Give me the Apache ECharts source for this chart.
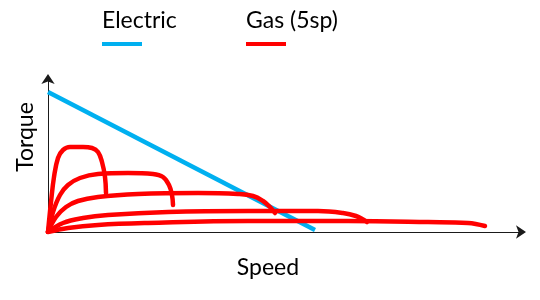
<!DOCTYPE html>
<html><head><meta charset="utf-8">
<script src="https://cdn.jsdelivr.net/npm/echarts@6/dist/echarts.min.js"></script>
<style>html,body{margin:0;padding:0;background:#fff}#c{width:540px;height:300px}</style>
</head><body><div id="c"></div>
<script>
const seriesNames = ['Electric', 'Gas (5sp)'];
const xTitle = 'Speed';
const yTitle = 'Torque';
const electric = [[0,140],[267,2]];
const gear1 = [[0,0],[3,30],[6,55],[10,74],[15,82],[22,85],[35,85],[44,84],[50,80],[54,70],[57,55],[58,39]];
const gear2 = [[0,0],[5,20],[12,37],[20,47],[32,54],[50,58],[80,59],[105,58],[115,55],[121,47],[124,37],[125,27]];
const gear3 = [[0,0],[8,15],[18,25],[30,31],[50,35],[90,38],[150,39],[190,38],[205,36],[215,31],[222,25],[227,19]];
const gear4 = [[0,0],[15,9],[35,14],[60,17],[120,20],[200,21],[270,21],[295,19],[308,16],[316,12],[319,10]];
const gear5 = [[0,0],[20,4],[50,7],[100,9],[200,11],[300,11],[380,10],[420,9],[437,6]];
const gears = [gear1, gear2, gear3, gear4, gear5];

const BLUE = '#00B0F0', RED = '#FF0000';
const font = 'Lato, "Open Sans", sans-serif';
const chart = echarts.init(document.getElementById('c'));
const series = [];
gears.forEach((g, i) => series.push({
  name: seriesNames[1], type: 'line', data: g, smooth: 0.4, showSymbol: false,
  lineStyle: {color: RED, width: 4.5, cap: 'round'}, z: 2
}));
series.push({
  name: seriesNames[0], type: 'line', data: electric, showSymbol: false,
  lineStyle: {color: BLUE, width: 4.5}, z: 1
});
const axisLine = {lineStyle: {color: '#1a1a1a', width: 1}, symbol: ['none', 'arrow'], symbolSize: [10, 10], symbolOffset: [0, 4]};
chart.setOption({
  animation: false,
  grid: {left: 48, right: 18, top: 78, bottom: 68},
  xAxis: {type: 'value', min: 0, max: 474, splitLine: {show: false},
    axisTick: {show: false}, axisLabel: {show: false}, axisLine},
  yAxis: {type: 'value', min: 0, max: 154, splitLine: {show: false},
    axisTick: {show: false}, axisLabel: {show: false}, axisLine},
  graphic: [
    {type: 'text', x: 102, y: 9, style: {text: seriesNames[0], font: '23px ' + font, fill: '#000'}},
    {type: 'rect', shape: {x: 102, y: 42, width: 40, height: 4}, style: {fill: BLUE}},
    {type: 'text', x: 246, y: 9, style: {text: seriesNames[1], font: '23px ' + font, fill: '#000'}},
    {type: 'rect', shape: {x: 246, y: 42, width: 40, height: 4}, style: {fill: RED}},
    {type: 'text', x: 268, y: 268, style: {text: xTitle, font: '23px ' + font, fill: '#000', align: 'center', verticalAlign: 'middle'}},
    {type: 'text', x: 26, y: 137, rotation: Math.PI / 2, style: {text: yTitle, font: '23px ' + font, fill: '#000', align: 'center', verticalAlign: 'middle'}}
  ],
  series
});
</script></body></html>
